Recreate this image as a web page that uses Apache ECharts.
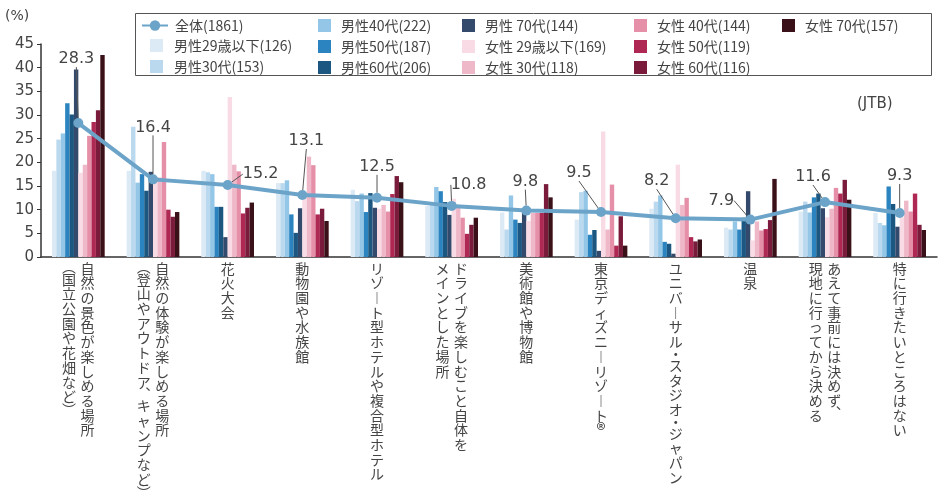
<!DOCTYPE html>
<html><head><meta charset="utf-8">
<script src="https://cdn.jsdelivr.net/npm/echarts@6/dist/echarts.min.js"></script>
<style>html,body{margin:0;padding:0;background:#fff}#c{width:943px;height:497px}</style>
</head><body><div id="c"></div>
<script>
// ---- data ----
const categories = [
  '自然の景色が楽しめる場所\n(国立公園や花畑など)',
  '自然の体験が楽しめる場所\n(登山やアウトドア、キャンプなど)',
  '花火大会',
  '動物園や水族館',
  'リゾート型ホテルや複合型ホテル',
  'ドライブを楽しむこと自体を\nメインとした場所',
  '美術館や博物館',
  '東京ディズニーリゾート®',
  'ユニバーサル・スタジオ・ジャパン',
  '温泉',
  'あえて事前には決めず、\n現地に行ってから決める',
  '特に行きたいところはない'
];
const yTicks = [0, 5, 10, 15, 20, 25, 30, 35, 40, 45];
const total   = [28.3, 16.4, 15.2, 13.1, 12.5, 10.8, 9.8, 9.5, 8.2, 7.9, 11.6, 9.3];
const male29  = [18.2, 18.2, 18.2, 15.6, 14.2, 10.8, 9.4, 7.9, 10.2, 6.2, 9.6, 9.3];
const male30  = [24.8, 27.5, 17.9, 15.6, 11.8, 11.0, 5.8, 13.7, 11.7, 5.8, 11.7, 7.2];
const male40  = [26.1, 15.7, 17.5, 16.2, 13.4, 14.8, 13.0, 14.0, 13.0, 7.5, 9.4, 6.7];
const male50  = [32.5, 17.5, 10.6, 9.0, 9.5, 13.9, 7.9, 4.7, 3.2, 5.8, 12.6, 14.9];
const male60  = [30.1, 14.0, 10.6, 5.1, 13.5, 11.6, 7.2, 5.7, 2.8, 8.3, 13.4, 11.2];
const male70  = [39.6, 18.0, 4.2, 10.3, 10.4, 8.9, 9.8, 1.3, 0.7, 13.9, 10.3, 6.4];
const fem29   = [17.8, 16.9, 33.8, 13.0, 10.2, 12.3, 7.6, 26.5, 19.5, 3.5, 8.4, 8.4];
const fem30   = [19.5, 16.8, 19.5, 21.2, 11.0, 10.4, 9.3, 5.8, 11.0, 7.5, 10.2, 11.9];
const fem40   = [25.6, 24.3, 18.1, 19.4, 9.6, 8.3, 9.3, 15.3, 12.5, 5.6, 14.6, 9.6];
const fem50   = [28.5, 10.0, 9.2, 9.0, 13.3, 4.9, 9.3, 2.4, 4.2, 5.9, 13.4, 13.4];
const fem60   = [31.0, 8.5, 10.4, 10.2, 17.1, 6.8, 15.4, 8.6, 3.3, 7.8, 16.3, 6.8];
const fem70   = [42.7, 9.5, 11.5, 7.6, 15.8, 8.3, 12.6, 2.4, 3.7, 16.5, 12.1, 5.7];
const totalName = '全体(1861)';
const barNames = ['男性29歳以下(126)', '男性30代(153)', '男性40代(222)', '男性50代(187)', '男性60代(206)', '男性 70代(144)',
                  '女性 29歳以下(169)', '女性 30代(118)', '女性 40代(144)', '女性 50代(119)', '女性 60代(116)', '女性 70代(157)'];
const barData = [male29, male30, male40, male50, male60, male70, fem29, fem30, fem40, fem50, fem60, fem70];

// ---- styles ----
const barColors = ['#dceaf5', '#bad8ee', '#93c6e7', '#2b84bf', '#1b5780', '#344a6c',
                   '#f8dbe4', '#efb8c9', '#e58fa8', '#ae2853', '#7a1b3b', '#3b1119'];
const lineColor = '#6ba4c8';
// label offsets (dx, dy from point centre) and whether a leader line is drawn
const labelOffsets = [[-2, -64], [0, -52], [33, -11], [4, -54], [0, -31], [17, -21], [-1, -29], [-22, -39], [-19, -37], [-29, -19], [-12, -25], [0, -37]];
const leaders = [true, true, true, true, false, false, false, true, true, true, false, true];
const JP = '"Noto Sans CJK JP", "Noto Sans", sans-serif';
const NUM = '"DejaVu Sans", sans-serif';
const txt = '#444';

// vertical text helpers
const vmap = {'(': '\uFE35', ')': '\uFE36', 'ー': '\uFE31', '、': '\uFE11'};
const parenChars = new Set(['(', ')']);
const halfChars = new Set(['、', '・']);
function colLabel(v, colIdx) {
  const cols = v.split('\n');
  const col = cols[colIdx];
  if (!col) return '';
  const st = cols.length > 1 ? (colIdx === 0 ? 'r' : 'l') : 'c';
  return Array.from(col).map(ch => {
    const g = vmap[ch] || ch;
    const kind = ch === '®' ? 'b' : (parenChars.has(ch) ? 'p' : (halfChars.has(ch) ? 'h' : ''));
    return '{' + st + kind + '|' + g + '}';
  }).join('\n');
}
const LH = 14.7;
const richBase = {fontFamily: JP, fontSize: 14, color: txt};
const rich = {};
[['c', 18.5, 'center'], ['r', 32.5, 'right'], ['l', 32.5, 'left']].forEach(([k, w, a]) => {
  rich[k] = Object.assign({}, richBase, {width: w, align: a, lineHeight: LH});
  rich[k + 'h'] = Object.assign({}, richBase, {width: w, align: a, lineHeight: 9});
  rich[k + 'p'] = Object.assign({}, richBase, {width: w, align: a, lineHeight: 11});
  rich[k + 'b'] = Object.assign({}, richBase, {width: w, align: a, lineHeight: LH, fontSize: 19});
});

const series = [];
barNames.forEach((nm, i) => {
  series.push({
    name: nm, type: 'bar', data: barData[i], barGap: '0%', barCategoryGap: '29.4%',
    itemStyle: {color: barColors[i]}, z: 2
  });
});
series.push({
  name: totalName, type: 'line', data: total,
  z: 5, symbol: 'circle', symbolSize: 10,
  lineStyle: {color: lineColor, width: 4}, itemStyle: {color: lineColor},
  label: {show: true, position: 'inside', fontFamily: NUM, fontSize: 16, color: txt},
  labelLine: {show: true, lineStyle: {color: '#555', width: 1}},
  labelLayout: p => {
    const o = labelOffsets[p.dataIndex];
    if (!leaders[p.dataIndex]) return {dx: o[0], dy: o[1]};
    return {x: p.rect.x + p.rect.width / 2 + o[0], y: p.rect.y + p.rect.height / 2 + o[1], align: 'center', verticalAlign: 'middle'};
  }
});

const legBase = {orient: 'vertical', itemGap: 7, itemWidth: 13, itemHeight: 13, padding: 0, icon: 'rect', selectedMode: false,
  textStyle: {fontFamily: JP, fontSize: 14, lineHeight: 13, color: txt, padding: [0, 0, 0, 5]}};

const gridBox = {left: 41, right: 6, top: 44, bottom: 240, containLabel: false, outerBoundsMode: 'none'};
const xBase = {
  type: 'category', data: categories,
  axisTick: {show: false}
};
const option = {
  animation: false,
  backgroundColor: '#fff',
  grid: [Object.assign({}, gridBox), Object.assign({}, gridBox)],
  legend: [
    Object.assign({}, legBase, {data: [totalName], left: 141, top: 18.5, itemWidth: 26, icon: null,
      textStyle: Object.assign({}, legBase.textStyle, {padding: [0, 0, 0, 2]})}),
    Object.assign({}, legBase, {data: barNames.slice(0, 2), left: 150, top: 38.5,
      textStyle: Object.assign({}, legBase.textStyle, {padding: [0, 0, 0, 6]})}),
    Object.assign({}, legBase, {data: barNames.slice(2, 5), left: 318, top: 18.5}),
    Object.assign({}, legBase, {data: [barNames[5], barNames[6], barNames[7]], left: 462, top: 18.5}),
    Object.assign({}, legBase, {data: barNames.slice(8, 11), left: 634, top: 18.5}),
    Object.assign({}, legBase, {data: [barNames[11]], left: 782, top: 18.5})
  ],
  graphic: [
    {type: 'rect', shape: {x: 135.5, y: 13.5, width: 796, height: 62}, style: {fill: null, stroke: '#555', lineWidth: 1}, silent: true, z: -1},
    {type: 'text', left: 5, top: 9, style: {text: '(%)', fontFamily: NUM, fontSize: 14, fill: txt}},
    {type: 'text', left: 857, top: 97, style: {text: '(JTB)', fontFamily: NUM, fontSize: 15, fill: txt}}
  ],
  xAxis: [
    Object.assign({}, xBase, {gridIndex: 0,
      axisLine: {lineStyle: {color: '#333', width: 1.5}},
      axisLabel: {interval: 0, margin: 4, formatter: v => colLabel(v, 0), rich: rich}}),
    Object.assign({}, xBase, {gridIndex: 1,
      axisLine: {show: false},
      axisLabel: {interval: 0, margin: 4, formatter: v => colLabel(v, 1), rich: rich}})
  ],
  yAxis: [{
    type: 'value', gridIndex: 0, min: yTicks[0], max: yTicks[yTicks.length - 1], interval: yTicks[1] - yTicks[0],
    splitLine: {show: false},
    axisLine: {show: true, lineStyle: {color: '#333', width: 1.5}},
    axisTick: {show: true, length: 4, lineStyle: {color: '#333'}},
    axisLabel: {fontFamily: NUM, fontSize: 15, color: txt, margin: 7}
  }, {
    type: 'value', gridIndex: 1, min: yTicks[0], max: yTicks[yTicks.length - 1], show: false
  }],
  series: series
};
const chart = echarts.init(document.getElementById('c'));
chart.setOption(option);
</script>
</body></html>
